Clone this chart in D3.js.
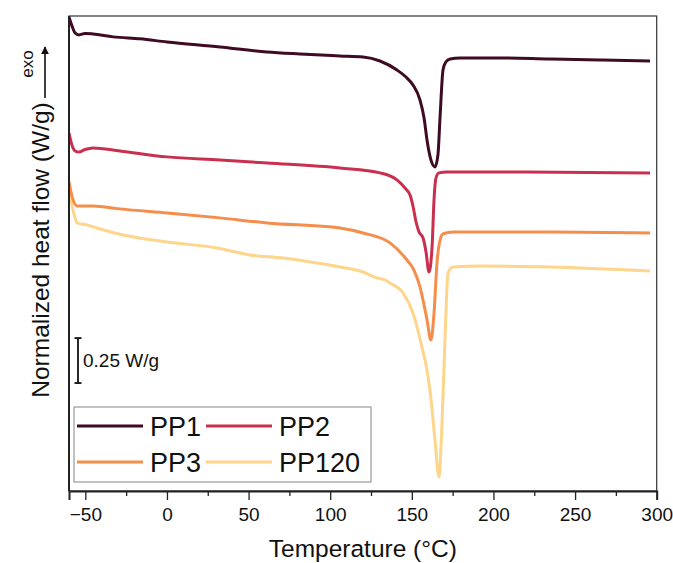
<!DOCTYPE html>
<html>
<head>
<meta charset="utf-8">
<script src="https://cdn.jsdelivr.net/npm/d3@7"></script>
<style>
  body { margin: 0; background: #fff; }
  svg { font-family: Arial, "Liberation Sans", sans-serif; }
</style>
</head>
<body>
<figure id="dsc" style="margin:0"></figure>
<script>
// temperatures (°C) and normalized heat flow (W/g, curves offset for clarity)
const pp1Temp = [-60, -58.2, -56.3, -53.9, -50.2, -45.3, -33, -16.5, 0, 32.5, 61.3, 81.5, 106, 120.1, 130.5, 140.9, 146.4, 150.7, 155, 157.5, 159.3, 161.7, 164.2, 166, 167.3, 169.1, 170.9, 173.4, 179.5, 204, 234.6, 265.3, 295.9];
const pp1Flow = [2.635, 2.585, 2.546, 2.535, 2.543, 2.540, 2.524, 2.513, 2.496, 2.468, 2.440, 2.429, 2.418, 2.412, 2.390, 2.340, 2.301, 2.257, 2.173, 2.073, 1.951, 1.840, 1.801, 1.868, 2.079, 2.340, 2.385, 2.401, 2.407, 2.407, 2.401, 2.396, 2.390];

const pp2Temp = [-60, -58.2, -56.3, -53.9, -50.2, -45.3, -28.8, 0, 32.5, 61.3, 106, 130.5, 140.9, 145.8, 148.9, 150.7, 152.6, 154.4, 156.9, 158.7, 160.5, 162.4, 163.6, 164.8, 166.6, 171.5, 212, 295.9];
const pp2Flow = [1.990, 1.923, 1.890, 1.884, 1.898, 1.907, 1.890, 1.857, 1.840, 1.823, 1.795, 1.768, 1.729, 1.684, 1.645, 1.584, 1.495, 1.440, 1.406, 1.328, 1.217, 1.356, 1.618, 1.740, 1.768, 1.773, 1.773, 1.768];

const pp3Temp = [-60, -58.2, -55.1, -45.3, -28.8, 0, 32.5, 61.3, 106, 120.1, 136.6, 147, 151.3, 155, 159.3, 161.7, 163.6, 165.4, 167.3, 169.1, 175.2, 234.6, 295.9];
const pp3Flow = [1.718, 1.640, 1.584, 1.584, 1.568, 1.545, 1.518, 1.490, 1.462, 1.434, 1.379, 1.284, 1.228, 1.134, 0.951, 0.839, 0.989, 1.267, 1.395, 1.429, 1.440, 1.440, 1.434];

const pp120Temp = [-60, -58.2, -56.3, -55.1, -49, -41, -26.9, 0, 30.7, 50.9, 71.1, 87.6, 106, 120.1, 128.7, 133.6, 136.6, 144.6, 150.7, 156.2, 158.7, 161.1, 164.2, 166.6, 168.4, 170.3, 172.2, 175.2, 191.8, 234.6, 295.9];
const pp120Flow = [1.700, 1.590, 1.518, 1.490, 1.479, 1.456, 1.423, 1.384, 1.351, 1.312, 1.295, 1.273, 1.245, 1.217, 1.184, 1.173, 1.156, 1.101, 0.989, 0.800, 0.700, 0.561, 0.283, 0.078, 0.356, 0.839, 1.212, 1.245, 1.251, 1.245, 1.223];

const seriesNames = ['PP1', 'PP2', 'PP3', 'PP120'];
const seriesColors = ['#3f0b22', '#c92f4e', '#f58d4b', '#fdd58b'];
const xTicks = [-50, 0, 50, 100, 150, 200, 250, 300];
const xMinorTicks = [-25, 25, 75, 125, 175, 225, 275];
const scaleBar = 0.25; // W/g

const width = 673;
const height = 563;
const margin = { top: 16, right: 16.3, bottom: 72, left: 69 };

const svg = d3.select('figure#dsc')
  .append('svg')
  .attr('width', width)
  .attr('height', height);

const x = d3.scaleLinear()
  .domain([-60, 300])
  .range([margin.left, width - margin.right]);

const y = d3.scaleLinear()
  .domain([0, 2.64])
  .range([height - margin.bottom, margin.top]);

svg.append('clipPath').attr('id', 'plot-clip')
  .append('rect')
  .attr('x', margin.left).attr('y', margin.top)
  .attr('width', x(300) - x(-60)).attr('height', y(0) - y(2.64));

// the four DSC traces
const series = [
  { name: seriesNames[0], temp: pp1Temp, flow: pp1Flow },
  { name: seriesNames[1], temp: pp2Temp, flow: pp2Flow },
  { name: seriesNames[2], temp: pp3Temp, flow: pp3Flow },
  { name: seriesNames[3], temp: pp120Temp, flow: pp120Flow }
];

const line = d3.line()
  .x(d => x(d[0]))
  .y(d => y(d[1]))
  .curve(d3.curveMonotoneX);

const traces = svg.append('g').attr('clip-path', 'url(#plot-clip)');
// draw the light ones first so the darker traces stay on top
series.slice().reverse().forEach(s => {
  const i = seriesNames.indexOf(s.name);
  traces.append('path')
    .datum(d3.zip(s.temp, s.flow))
    .attr('d', line)
    .attr('fill', 'none')
    .attr('stroke', seriesColors[i])
    .attr('stroke-width', 3)
    .attr('stroke-linejoin', 'round');
});

// frame
svg.append('rect')
  .attr('x', x(-60)).attr('y', y(2.64))
  .attr('width', x(300) - x(-60)).attr('height', y(0) - y(2.64))
  .attr('fill', 'none')
  .attr('stroke', '#333')
  .attr('stroke-width', 1.2);
svg.append('line')
  .attr('x1', x(-60)).attr('x2', x(-60))
  .attr('y1', y(2.64)).attr('y2', y(0))
  .attr('stroke', '#222').attr('stroke-width', 2);

// bottom axis, major + minor ticks
const xAxis = svg.append('g')
  .attr('transform', 'translate(0,' + y(0) + ')')
  .call(d3.axisBottom(x).tickValues(xTicks).tickSize(9).tickPadding(8));
xAxis.select('.domain').attr('stroke', '#222').attr('stroke-width', 2);
xAxis.selectAll('.tick line').attr('stroke', '#222').attr('stroke-width', 1.3);
xAxis.selectAll('.tick text')
  .style('font-size', '19px')
  .style('font-family', 'Arial, "Liberation Sans", sans-serif')
  .attr('fill', '#111');

svg.append('g')
  .attr('transform', 'translate(0,' + y(0) + ')')
  .call(d3.axisBottom(x).tickValues(xMinorTicks).tickSize(5).tickFormat(''))
  .call(g => g.select('.domain').remove())
  .selectAll('.tick line').attr('stroke', '#222').attr('stroke-width', 1.3);

// axis titles
svg.append('text')
  .attr('x', (x(-60) + x(300)) / 2)
  .attr('y', 557)
  .attr('text-anchor', 'middle')
  .style('font-size', '24.5px')
  .attr('fill', '#111')
  .text('Temperature (°C)');

svg.append('text')
  .attr('transform', 'translate(49,250) rotate(-90)')
  .attr('text-anchor', 'middle')
  .style('font-size', '24.5px')
  .attr('fill', '#111')
  .text('Normalized heat flow (W/g)');

// exo arrow
svg.append('defs').append('marker')
  .attr('id', 'arrowhead')
  .attr('viewBox', '0 0 10 10')
  .attr('refX', 9).attr('refY', 5)
  .attr('markerWidth', 5).attr('markerHeight', 5)
  .attr('orient', 'auto')
  .append('path')
  .attr('d', 'M0,0 L10,5 L0,10 Z')
  .attr('fill', '#111');

svg.append('line')
  .attr('x1', 45).attr('x2', 45)
  .attr('y1', 98).attr('y2', 47)
  .attr('stroke', '#111').attr('stroke-width', 1.6)
  .attr('marker-end', 'url(#arrowhead)');

svg.append('text')
  .attr('transform', 'translate(33,64) rotate(-90)')
  .attr('text-anchor', 'middle')
  .style('font-size', '17px')
  .attr('fill', '#111')
  .text('exo');

// 0.25 W/g scale bar
const barBase = 0.6;
const bar = svg.append('g').attr('stroke', '#111').attr('stroke-width', 1.8);
bar.append('line')
  .attr('x1', 78).attr('x2', 78)
  .attr('y1', y(barBase)).attr('y2', y(barBase + scaleBar));
[barBase, barBase + scaleBar].forEach(v => {
  bar.append('line')
    .attr('x1', 74.5).attr('x2', 81.5)
    .attr('y1', y(v)).attr('y2', y(v));
});
svg.append('text')
  .attr('x', 83)
  .attr('y', 367)
  .style('font-size', '19px')
  .attr('fill', '#111')
  .text(scaleBar + ' W/g');

// legend
const legend = svg.append('g');
legend.append('rect')
  .attr('x', 74).attr('y', 407)
  .attr('width', 297).attr('height', 75)
  .attr('fill', '#fff')
  .attr('stroke', '#999')
  .attr('stroke-width', 1.2);

const legendCols = [77, 206];
const legendRows = [426, 462];
seriesNames.forEach((name, i) => {
  const lx = legendCols[i % 2];
  const ly = legendRows[Math.floor(i / 2)];
  legend.append('line')
    .attr('x1', lx).attr('x2', lx + 66)
    .attr('y1', ly).attr('y2', ly)
    .attr('stroke', seriesColors[i])
    .attr('stroke-width', 3);
  legend.append('text')
    .attr('x', lx + 73)
    .attr('y', ly + 10)
    .style('font-size', '27px')
    .attr('fill', '#111')
    .text(name);
});
</script>
</body>
</html>
